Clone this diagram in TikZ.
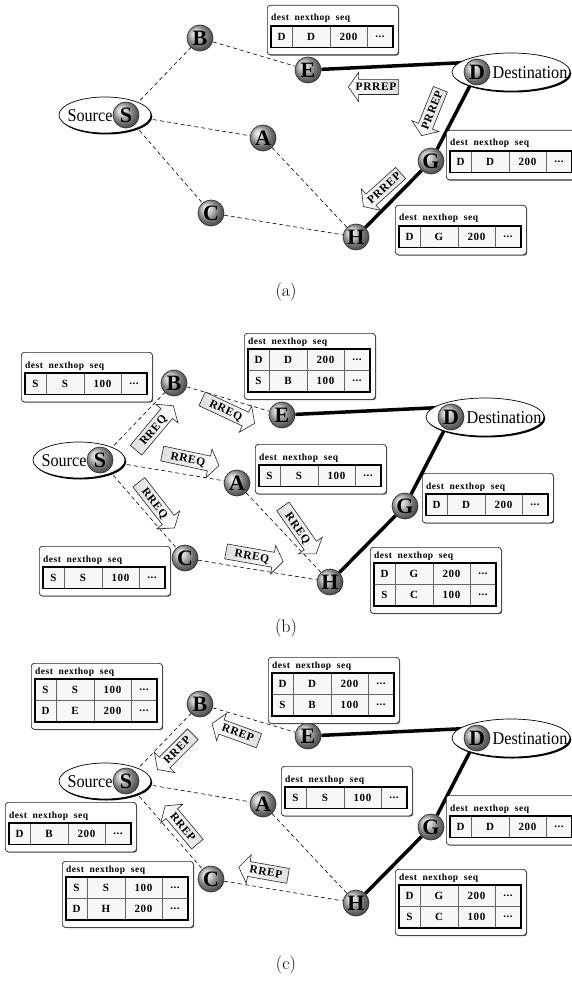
\documentclass[tikz,border=0pt]{standalone}
\usepackage{fontspec}
\newfontfamily\serfont{Liberation Serif}
\newfontfamily\labfont[FakeStretch=0.9]{Liberation Serif}
\newfontfamily\tabfont[LetterSpace=5]{Liberation Serif}
\usetikzlibrary{shapes.geometric,shapes.arrows,shadows,backgrounds,calc}

\tikzset{
  host/.style={circle, draw=black!80, line width=0.7pt, shading=ball, ball color=gray!55,
    minimum size=26pt, inner sep=0pt, font=\serfont\bfseries\fontsize{22}{22}\selectfont},
  srcell/.style={ellipse, draw, line width=0.7pt, fill=white, minimum width=92pt, minimum height=36pt,
    drop shadow={shadow xshift=1.3pt, shadow yshift=-1.5pt, opacity=1, fill=black}},
  dstell/.style={srcell, minimum width=118pt, minimum height=38pt},
  nametxt/.style={inner sep=0pt, font=\labfont\fontsize{18}{18}\selectfont},
  link/.style={dash pattern=on 4pt off 3pt, line width=0.6pt},
  route/.style={line width=3.5pt},
  tabbox/.style={rectangle, draw=black!85, line width=0.7pt, rounded corners=3pt, fill=white,
    minimum width=131pt, anchor=north west, inner sep=0pt,
    drop shadow={shadow xshift=0.8pt, shadow yshift=-0.8pt, opacity=0.7, fill=black}},
  tabhead/.style={anchor=base west, inner sep=0pt, font=\tabfont\bfseries\fontsize{9.5}{10}\selectfont},
  tabgrid/.style={draw=black!60, line width=0.5pt, fill=gray!6},
  cell/.style={inner sep=0pt, font=\tabfont\bfseries\fontsize{11}{11}\selectfont},
  msg/.style={single arrow, draw=black!85, line width=0.6pt, left color=gray!25, right color=white,
    inner xsep=1pt, inner ysep=3pt, text height=8pt, text depth=0.5pt, minimum height=50pt,
    single arrow head extend=7pt, single arrow tip angle=110,
    font=\tabfont\bfseries\fontsize{11.5}{12}\selectfont},
  reply/.style={shape border rotate=180, left color=white, right color=gray!25},
  request/.style={minimum height=58pt},
  captxt/.style={font=\fontsize{18}{20}\selectfont},
}

% one network, in the coordinates of panel (a)
\newcommand{\network}{%
  \node[srcell] (src) at (105,115) {};
  \node[nametxt] (srcL) at (90,116) {Source};
  \node[dstell] (dst) at (511,72) {};
  \node[nametxt] (dstL) at (530,73) {Destination};
  \node[host] (S) at (126,115) {S};
  \node[host] (B) at (200,38) {B};
  \node[host] (A) at (263,138) {A};
  \node[host] (C) at (211,213) {C};
  \node[host] (E) at (308,70) {E};
  \node[host] (D) at (477,72) {D};
  \node[host] (G) at (431,161) {G};
  \node[host] (H) at (356,237) {H};
  \begin{scope}[on background layer]
    \draw[link] (S) -- (B);
    \draw[link] (S) -- (A);
    \draw[link] (S) -- (C);
    \draw[link] (B) -- (E);
    \draw[link] (A) -- (H);
    \draw[link] (C) -- (H);
    \draw[route] (E) -- ($(dst.center)!0.6!(dst.north)$);
    \draw[route] (D) -- (G) -- (H);
  \end{scope}
}

% routing table: name, x, y (top left), rows, entries
\newcommand{\rtab}[5]{%
  \pgfmathsetmacro\rtop{#3+26-5*#4}
  \node[tabbox, minimum height={33+16.5*#4}] (#1) at (#2,#3) {};
  \node[tabhead] (#1-h) at ({#2+4},{\rtop-5}) {dest\ \ nexthop\ \ seq};
  \foreach \p/\q/\r [count=\i] in {#5} {
    \pgfmathsetmacro\ry{\rtop+21.5*(\i-1)}
    \draw[tabgrid] ({#2+4},\ry) rectangle +(122,21.5);
    \draw[tabgrid] ({#2+25},\ry) -- +(0,21.5) ({#2+63},\ry) -- +(0,21.5) ({#2+100},\ry) -- +(0,21.5);
    \node[cell] (#1-\i-d) at ({#2+14.5},{\ry+10.75}) {\p};
    \node[cell] (#1-\i-n) at ({#2+44},{\ry+10.75}) {\q};
    \node[cell] (#1-\i-s) at ({#2+81.5},{\ry+10.75}) {\r};
    \node[cell] (#1-\i-x) at ({#2+113},{\ry+10.75}) {...};
  }
  \draw[line width=1.4pt] ({#2+4},\rtop) rectangle +(122,{21.5*#4});
}

\begin{document}
\begin{tikzpicture}[x=1pt,y=-1pt]
  \useasboundingbox (0,0) rectangle (572,992);

  \begin{scope}[name prefix=a-]
    \network
  \end{scope}
  \begin{scope}[name prefix=b-, shift={(-26,345)}]
    \network
  \end{scope}
  \begin{scope}[name prefix=c-, shift={(0,666)}]
    \network
  \end{scope}

  % (a)
  \rtab{ta1}{267}{5}{1}{D/D/200}
  \rtab{ta2}{446}{130}{1}{D/D/200}
  \rtab{ta3}{395}{205}{1}{D/G/200}
  \node[msg, reply] (pa1) at (376,87) {PRREP};
  \node[msg, reply, rotate=68] (pa2) at (432,110) {PRREP};
  \node[msg, reply, rotate=42] (pa3) at (384,188) {PRREP};
  \node[captxt] (capa) at (286,292) {(a)};

  % (b)
  \rtab{tb1}{21}{352}{1}{S/S/100}
  \rtab{tb2}{244}{333}{2}{D/D/200,S/B/100}
  \rtab{tb3}{255}{444}{1}{S/S/100}
  \rtab{tb4}{422}{473}{1}{D/D/200}
  \rtab{tb5}{370}{547}{2}{D/G/200,S/C/100}
  \rtab{tb6}{39}{546}{1}{S/S/100}
  \node[msg, request, rotate=50] (qb1) at (153,430) {RREQ};
  \node[msg, request, rotate=-25] (qb2) at (226,410) {RREQ};
  \node[msg, request, rotate=-12] (qb3) at (188,459) {RREQ};
  \node[msg, request, rotate=-52] (qb4) at (155,503) {RREQ};
  \node[msg, request, rotate=-10] (qb5) at (252,556) {RREQ};
  \node[msg, request, rotate=-55] (qb6) at (298,528) {RREQ};
  \node[captxt] (capb) at (286,628) {(b)};

  % (c)
  \rtab{tc1}{31}{663}{2}{S/S/100,D/E/200}
  \rtab{tc2}{268}{657}{2}{D/D/200,S/B/100}
  \rtab{tc3}{281}{766}{1}{S/S/100}
  \rtab{tc4}{446}{795}{1}{D/D/200}
  \rtab{tc5}{395}{869}{2}{D/G/200,S/C/100}
  \rtab{tc6}{5}{802}{1}{D/B/200}
  \rtab{tc7}{62}{861}{2}{S/S/100,D/H/200}
  \node[msg, reply, rotate=-20] (rc1) at (238,733) {RREP};
  \node[msg, reply, rotate=45] (rc2) at (177,750) {RREP};
  \node[msg, reply, rotate=-50] (rc3) at (183,827) {RREP};
  \node[msg, reply, rotate=-10] (rc4) at (266,872) {RREP};
  \node[captxt] (capc) at (286,965) {(c)};
\end{tikzpicture}
\end{document}
